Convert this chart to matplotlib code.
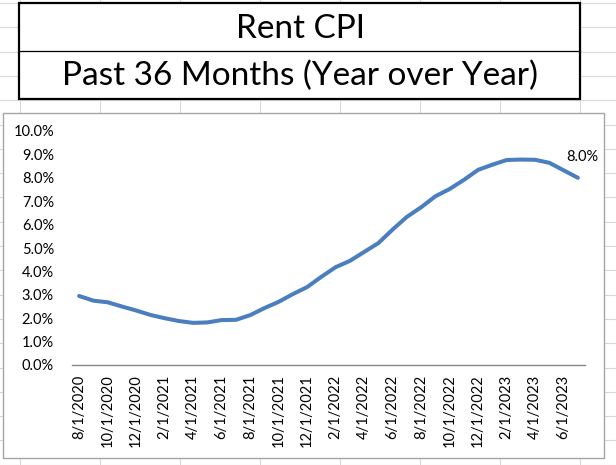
import pandas as pd
import matplotlib.pyplot as plt
from matplotlib.patches import Rectangle
from matplotlib.lines import Line2D
from matplotlib.ticker import PercentFormatter

# --- data ---
months = pd.date_range('2020-08-01', periods=36, freq='MS')
categories = [f"{d.month}/1/{d.year}" for d in months]
rent_yoy = [2.95, 2.75, 2.68, 2.50, 2.33, 2.14, 2.00, 1.88, 1.80, 1.82,
            1.92, 1.93, 2.13, 2.43, 2.70, 3.03, 3.33, 3.77, 4.18, 4.45,
            4.83, 5.21, 5.79, 6.33, 6.74, 7.21, 7.52, 7.91, 8.34, 8.56,
            8.76, 8.78, 8.77, 8.64, 8.32, 8.00]
title_1 = "Rent CPI"
title_2 = "Past 36 Months (Year over Year)"

W, H = 616, 465
plt.rcParams['font.family'] = ['Lato', 'DejaVu Sans']


def fx(x):
    return x / W


def fy(y):
    return 1 - y / H


fig = plt.figure(figsize=(W / 100, H / 100), dpi=100)
fig.patch.set_facecolor('white')

# --- spreadsheet gridlines behind everything ---
grid_c = '#D9D9D9'
for x in range(20, W, 80):
    fig.add_artist(Line2D([fx(x), fx(x)], [0, 1], color=grid_c, lw=0.8, zorder=0))
y = 3.0
while y < H:
    fig.add_artist(Line2D([0, 1], [fy(y), fy(y)], color=grid_c, lw=0.8, zorder=0))
    y += 24.3

# --- title cells ---
fig.add_artist(Rectangle((fx(19), fy(99)), fx(580) - fx(19), fy(3) - fy(99),
                         facecolor='white', edgecolor='black', lw=1.6, zorder=1))
fig.add_artist(Line2D([fx(19), fx(580)], [fy(51), fy(51)], color='black', lw=0.9, zorder=2))
fig.text(fx(300), fy(29), title_1, ha='center', va='center', fontsize=24, zorder=3)
fig.text(fx(300), fy(76), title_2, ha='center', va='center', fontsize=24, zorder=3)

# --- chart area ---
fig.add_artist(Rectangle((fx(3), fy(458)), fx(604) - fx(3), fy(113) - fy(458),
                         facecolor='white', edgecolor='#A5A5A5', lw=1.0, zorder=1))

ax = fig.add_axes([fx(72), fy(365), fx(585) - fx(72), fy(131) - fy(365)])
ax.set_zorder(2)
ax.patch.set_alpha(0)

xs = list(range(len(categories)))
ax.plot(xs, rent_yoy, color='#4A7EBF', lw=2.9, solid_capstyle='round', solid_joinstyle='round')
ax.annotate(f"{rent_yoy[-1]:.1f}%", (xs[-1], rent_yoy[-1]), xytext=(3, 10),
            textcoords='offset points', ha='center', va='bottom', fontsize=10.5)

ax.set_xlim(-0.5, len(categories) - 0.5)
ax.set_ylim(0, 10)
ax.set_yticks(range(0, 11))
ax.yaxis.set_major_formatter(PercentFormatter(decimals=1))
ax.set_xticks(xs[::2])
ax.set_xticklabels(categories[::2], rotation=90)

for side in ['top', 'right', 'left']:
    ax.spines[side].set_visible(False)
ax.spines['bottom'].set_color('#868686')
ax.spines['bottom'].set_linewidth(1.0)
ax.tick_params(axis='both', length=0, labelsize=10.5, colors='black')
ax.tick_params(axis='y', pad=13)
ax.tick_params(axis='x', pad=7)

fig.savefig('out.png', dpi=100)
